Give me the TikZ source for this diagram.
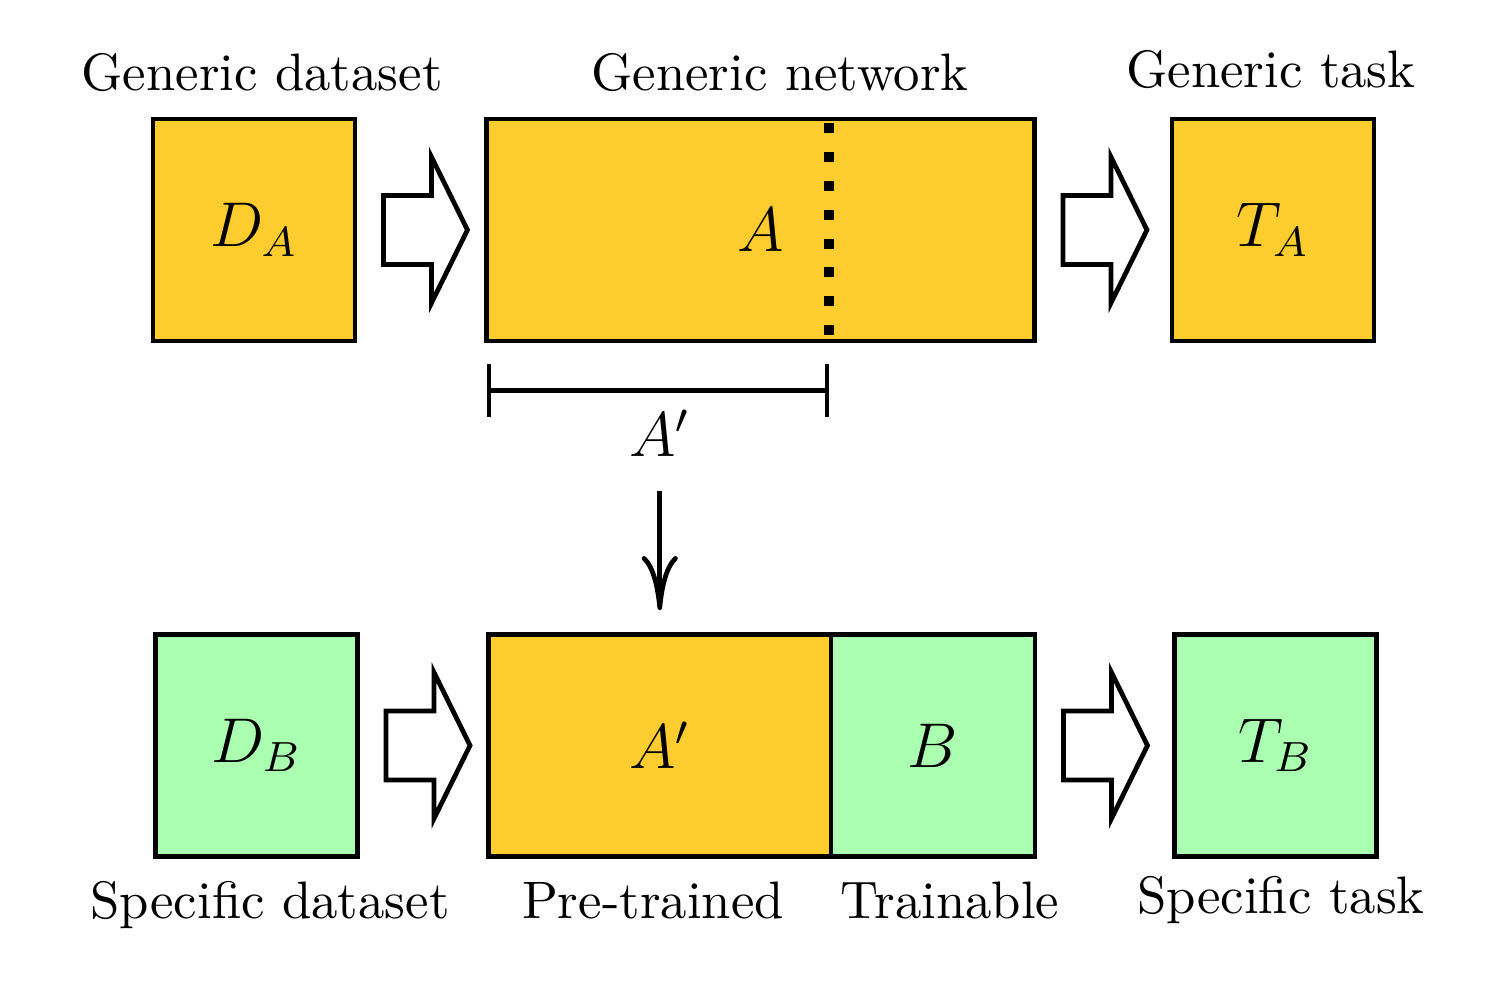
\documentclass[tikz,border=0pt]{standalone}
\usetikzlibrary{positioning,calc,arrows.meta}
\definecolor{netorange}{RGB}{253,204,46}
\definecolor{netgreen}{RGB}{170,255,176}
\tikzset{
  blk/.style={draw, line width=0.9pt, minimum width=1.347cm, minimum height=1.48cm, inner sep=0pt, outer sep=0pt, font=\large},
  oldblk/.style={blk, fill=netorange},
  newblk/.style={blk, fill=netgreen},
  fat/.style={draw, fill=white, line width=0.9pt, line join=miter},
  lbl/.style={anchor=base, inner sep=0pt}
}
\newcommand{\fatarrow}[1]{%
  \draw[fat] ($(#1.east)+(0.19,0.23)$) -- ++(0.32,0) -- ++(0,0.257) -- ++(0.24,-0.487)
    -- ++(-0.24,-0.487) -- ++(0,0.257) -- ++(-0.32,0) -- cycle;}
\begin{document}
\begin{tikzpicture}
      \useasboundingbox (0,0) rectangle (9.947,6.673);
      \node[oldblk] (da) at (1.693,5.14) {$D_A$};
      \node[oldblk, minimum width=3.653cm] (neta) at (5.07,5.14) {$A$};
      \node[oldblk] (ta) at (8.487,5.14) {$T_A$};
      \node[newblk] (db) at (1.71,1.703) {$D_B$};
      \node[oldblk, minimum width=2.283cm, anchor=west] (pre) at (3.257,1.703) {$A'$};
      \node[newblk, minimum width=1.36cm, right=0pt of pre] (bb) {$B$};
      \node[newblk] (tb) at (8.503,1.703) {$T_B$};
      \node[lbl] (gds) at (1.747,6.067) {Generic dataset};
      \node[lbl] (gnet) at (5.2,6.067) {Generic network};
      \node[lbl] (gtask) at (8.473,6.093) {Generic task};
      \node[lbl] (sds) at (1.8,0.547) {Specific dataset};
      \node[lbl] (ptr) at (4.353,0.547) {Pre-trained};
      \node[lbl] (trn) at (6.333,0.547) {Trainable};
      \node[lbl] (stask) at (8.54,0.58) {Specific task};
      \fatarrow{da}
      \fatarrow{neta}
      \fatarrow{db}
      \fatarrow{bb}
      \coordinate (split) at ($(neta.west)+(2.283,0)$);
      \draw[line width=1.9pt, dash pattern=on 1.9pt off 3.56pt]
        ($(split|-neta.north)+(0,-0.03)$) -- ($(split|-neta.south)+(0,0.03)$);
      \coordinate (bl) at ($(neta.south west)+(0,-0.33)$);
      \coordinate (br) at ($(split|-neta.south)+(0,-0.33)$);
      \draw[line width=0.8pt, {Bar[width=3.53mm]}-{Bar[width=3.53mm]}] (bl) -- (br);
      \node[lbl, font=\large] (aplab) at (4.4,3.627) {$A'$};
      \draw[line width=0.9pt, -{To[length=3.6mm,width=2.4mm]}, shorten <=0.22cm, shorten >=0.163cm]
        (aplab.south -| pre.north) -- (pre.north);
    \end{tikzpicture}
\end{document}
